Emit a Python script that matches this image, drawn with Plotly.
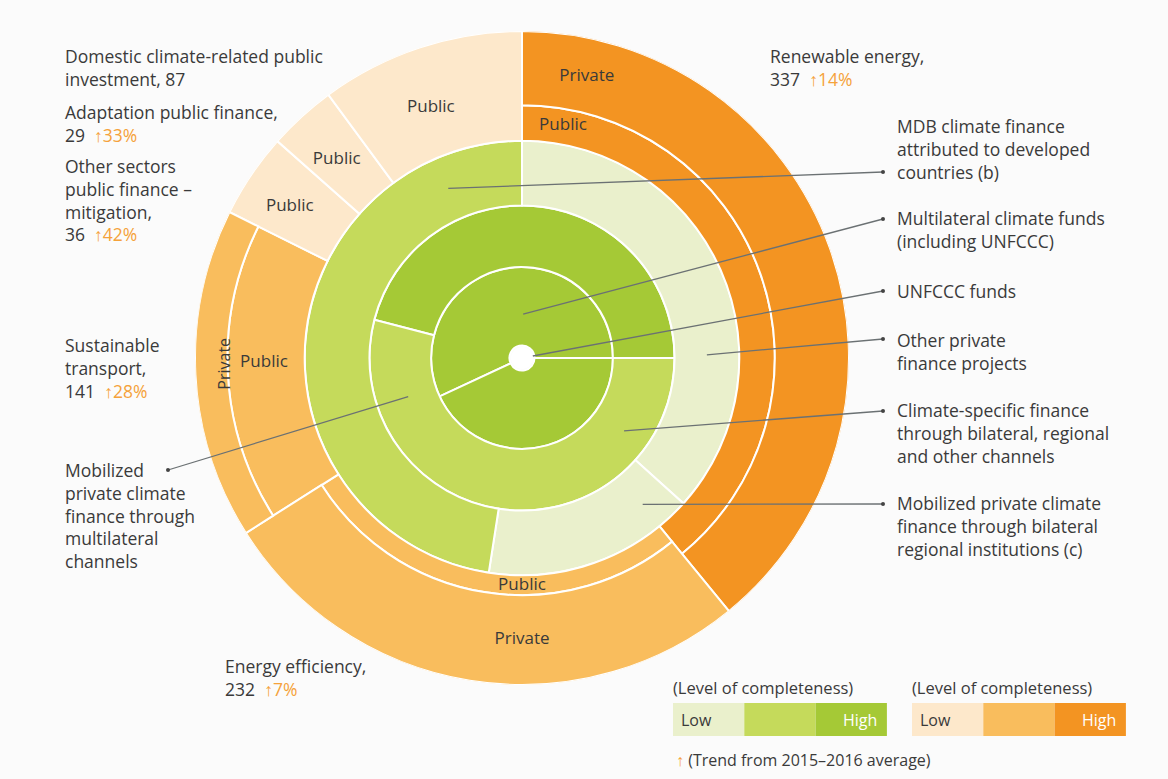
import math
import plotly.graph_objects as go

W, H = 1168, 779

# ---------------- data ----------------
# Outer (orange) ring: sectors, clockwise from 12 o'clock
sectors = ["Renewable energy", "Energy efficiency", "Sustainable transport",
           "Other sectors public finance – mitigation", "Adaptation public finance",
           "Domestic climate-related public investment"]
sector_values = [337, 232, 141, 36, 29, 87]
sector_levels = ["high", "medium", "medium", "low", "low", "low"]
public_outer_radius = [242, 227, 282, 313, 313, 313]   # where Public ends / Private begins
orange_inner_radius = 208
orange_outer_radius = 313

# Inner (green) rings: angular spans in degrees, clockwise
ring1_names = ["UNFCCC funds", "UNFCCC funds"]
ring1_spans = [205, 155]
ring1_start = 245
ring1_levels = ["high", "high"]
ring1_radius = [12, 87]

ring2_names = ["Multilateral climate funds (including UNFCCC)",
               "Climate-specific finance through bilateral, regional and other channels"]
ring2_spans = [165.5, 194.5]
ring2_start = 284.5
ring2_levels = ["high", "medium"]
ring2_radius = [87, 146]

ring3_names = ["Other private finance projects",
               "Mobilized private climate finance through bilateral regional institutions (c)",
               "MDB climate finance attributed to developed countries (b)"]
ring3_spans = [132, 56.8, 171.2]
ring3_start = 0
ring3_levels = ["low", "low", "medium"]
ring3_radius = [146, 208]

GREEN = {"low": "#eaf0cc", "medium": "#c5da5b", "high": "#a5c936"}
ORANGE = {"low": "#fde8cb", "medium": "#f9bd5d", "high": "#f39422"}
TEXT = "#3a3a3a"
TREND = "#f5a23a"
FONT = "Open Sans"
FS = 17.5

# ---------------- figure ----------------
CX, CY = 522, 358
R_PX = 327
S = R_PX / orange_outer_radius

fig = go.Figure()


def add_ring(names, spans, start, levels, radius):
    thetas, widths, cols = [], [], []
    a = start
    for sp, lv in zip(spans, levels):
        thetas.append(a + sp / 2)
        widths.append(sp)
        cols.append(GREEN[lv])
        a += sp
    fig.add_trace(go.Barpolar(
        r=[radius[1] - radius[0]] * len(spans), base=[radius[0]] * len(spans),
        theta=thetas, width=widths, text=names,
        marker=dict(color=cols, line=dict(color="white", width=2)),
        hoverinfo="text", showlegend=False))


add_ring(ring1_names, ring1_spans, ring1_start, ring1_levels, ring1_radius)
add_ring(ring2_names, ring2_spans, ring2_start, ring2_levels, ring2_radius)
add_ring(ring3_names, ring3_spans, ring3_start, ring3_levels, ring3_radius)

total = sum(sector_values)
th, wd = [], []
a = 0
for v in sector_values:
    w = v / total * 360
    th.append(a + w / 2)
    wd.append(w)
    a += w
cols = [ORANGE[l] for l in sector_levels]

# Public part
fig.add_trace(go.Barpolar(
    r=[p - orange_inner_radius for p in public_outer_radius],
    base=[orange_inner_radius] * len(sectors), theta=th, width=wd,
    text=[s + " – Public" for s in sectors],
    marker=dict(color=cols, line=dict(color="white", width=2)),
    hoverinfo="text", showlegend=False))
# Private part
priv_idx = [i for i, p in enumerate(public_outer_radius) if p < orange_outer_radius]
fig.add_trace(go.Barpolar(
    r=[orange_outer_radius - public_outer_radius[i] for i in priv_idx],
    base=[public_outer_radius[i] for i in priv_idx],
    theta=[th[i] for i in priv_idx], width=[wd[i] for i in priv_idx],
    text=[sectors[i] + " – Private" for i in priv_idx],
    marker=dict(color=[cols[i] for i in priv_idx], line=dict(color="white", width=2)),
    hoverinfo="text", showlegend=False))

# in-ring labels
lab_text = ["Private", "Public", "Public", "Public", "Public", "Public", "Public", "Private"]
lab_r = [276, 226, 255, 260, 265, 247, 218, 270]
lab_th = [13, 10, 340, 317, 303, 269, 180, 180]
fig.add_trace(go.Scatterpolar(
    r=lab_r, theta=lab_th, text=lab_text, mode="text",
    textfont=dict(family=FONT, size=17, color=TEXT),
    hoverinfo="skip", showlegend=False))

fig.update_layout(
    width=W, height=H, margin=dict(l=0, r=0, t=0, b=0),
    paper_bgcolor="#fbfbfb", plot_bgcolor="#fbfbfb",
    barmode="overlay",
    polar=dict(
        domain=dict(x=[(CX - R_PX) / W, (CX + R_PX) / W],
                    y=[1 - (CY + R_PX) / H, 1 - (CY - R_PX) / H]),
        bgcolor="rgba(0,0,0,0)",
        radialaxis=dict(range=[0, orange_outer_radius], visible=False),
        angularaxis=dict(rotation=90, direction="clockwise", visible=False),
    ),
    font=dict(family=FONT, color=TEXT),
)


def px(x):
    return x / W


def py(y):
    return 1 - y / H


def pol(r, t):
    return CX + r * S * math.sin(math.radians(t)), CY - r * S * math.cos(math.radians(t))


def ann(x, y, text, size=FS, anchor="left", color=TEXT, **kw):
    fig.add_annotation(x=px(x), y=py(y), xref="paper", yref="paper", text=text,
                       showarrow=False, xanchor=anchor, yanchor="middle", align=anchor,
                       font=dict(family=FONT, size=size, color=color), **kw)


def trend(v):
    return f"<span style='color:{TREND}'>↑{v}</span>"


# left / outer labels
ann(63, 67.5, "Domestic climate-related public<br>investment, 87")
ann(63, 123, "Adaptation public finance,<br>29  " + trend("33%"))
ann(63, 200.5, "Other sectors<br>public finance –<br>mitigation,<br>36  " + trend("42%"))
ann(63, 368, "Sustainable<br>transport,<br>141  " + trend("28%"))
ann(63, 515.5, "Mobilized<br>private climate<br>finance through<br>multilateral<br>channels")
ann(223, 677.5, "Energy efficiency,<br>232  " + trend("7%"))
ann(768, 67.5, "Renewable energy,<br>337  " + trend("14%"))

# rotated Private label in transport ring
xr, yr = pol((282 + 313) / 2, 269)
fig.add_annotation(x=px(xr), y=py(yr), xref="paper", yref="paper", text="Private",
                   showarrow=False, textangle=-90,
                   font=dict(family=FONT, size=16, color=TEXT))

# right labels with leader lines
right = [
    ("MDB climate finance<br>attributed to developed<br>countries (b)", 149, 172, (177, 336.5)),
    ("Multilateral climate funds<br>(including UNFCCC)", 230, 219, (42, 1.5)),
    ("UNFCCC funds", 291, 291, (0, 0)),
    ("Other private<br>finance projects", 351, 339, (177, 89)),
    ("Climate-specific finance<br>through bilateral, regional<br>and other channels", 433, 411, (120, 125.5)),
    ("Mobilized private climate<br>finance through bilateral<br>regional institutions (c)", 526, 504, (181.6, 140.5)),
]
LINE = "#6b7173"
for text, ty, dy, (r, t) in right:
    ann(895, ty, text)
    x0, y0 = pol(r, t)
    fig.add_shape(type="line", xref="paper", yref="paper",
                  x0=px(x0), y0=py(y0), x1=px(883), y1=py(dy),
                  line=dict(color=LINE, width=1.3))
    fig.add_shape(type="circle", xref="paper", yref="paper",
                  x0=px(881), x1=px(885), y0=py(dy - 2), y1=py(dy + 2),
                  fillcolor="#444", line=dict(width=0))

# left leader line (multilateral channels)
x0, y0 = pol(115, 251.3)
fig.add_shape(type="line", xref="paper", yref="paper",
              x0=px(x0), y0=py(y0), x1=px(168), y1=py(470),
              line=dict(color=LINE, width=1.3))
fig.add_shape(type="circle", xref="paper", yref="paper",
              x0=px(166), x1=px(170), y0=py(468), y1=py(472),
              fillcolor="#444", line=dict(width=0))

# white centre dot
fig.add_shape(type="circle", xref="paper", yref="paper",
              x0=px(CX - 11), x1=px(CX + 11), y0=py(CY - 11), y1=py(CY + 11),
              fillcolor="white", line=dict(width=0))

# ---------------- legend ----------------
legend_levels = ["low", "medium", "high"]
for x0, pal in ((673, GREEN), (912, ORANGE)):
    ann(x0 - 2, 687, "(Level of completeness)", size=16.5)
    seg = 71.3
    for k, lv in enumerate(legend_levels):
        fig.add_shape(type="rect", xref="paper", yref="paper",
                      x0=px(x0 + k * seg), x1=px(x0 + (k + 1) * seg),
                      y0=py(736), y1=py(703), fillcolor=pal[lv], line=dict(width=0))
    ann(x0 + 6, 720, "Low", size=16)
    ann(x0 + 3 * seg - 8, 720, "High", size=16, anchor="right", color="white")
ann(674, 760, f"<span style='color:{TREND}'>↑</span> (Trend from 2015–2016 average)", size=16)

fig.write_html("out.html", config={"displayModeBar": False},
               post_script="document.body.style.margin='0';document.body.style.overflow='hidden';")
